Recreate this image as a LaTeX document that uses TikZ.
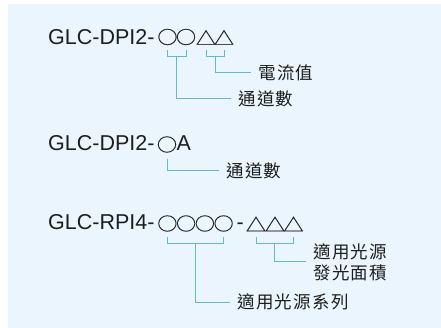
\documentclass[tikz,border=0pt]{standalone}
\usepackage{fontspec}
\setmainfont{Liberation Sans}
\newfontfamily\cjk[LetterSpace=8]{Noto Sans CJK TC}
\newfontfamily\symfont[FakeStretch=1.12,FakeBold=0.4]{Noto Sans CJK TC}
\usetikzlibrary{calc}
\definecolor{bgc}{RGB}{234,245,253}
\definecolor{leadc}{RGB}{100,185,200}
\definecolor{inkc}{RGB}{30,30,30}
\begin{document}
\begin{tikzpicture}[x=1pt,y=-1pt,
  code/.style={anchor=base west, inner sep=0pt, font=\fontsize{21.5}{24}\selectfont, text=inkc},
  glyph/.style={inner sep=0pt, font=\symfont\fontsize{18}{20}\selectfont, text=inkc},
  lbl/.style={anchor=west, inner sep=0pt, font=\cjk\fontsize{17.5}{21}\selectfont, text=inkc, align=left},
  lead/.style={draw=leadc, line width=1pt},
  leadend/.style={lead, shorten >=7pt},
]
\useasboundingbox (0,0) rectangle (441,328);
\fill[bgc] (8,4) rectangle (441,328);

% ---- line 1
\node[code] (p1) at (48,44.5) {GLC-DPI2-};
\node[glyph] (a1) at (167.5,37) {○};
\node[glyph] (a2) at (186,37) {○};
\node[glyph] (a3) at (206,37.5) {△};
\node[glyph] (a4) at (224,37.5) {△};
\coordinate (t1) at (0,50);
\coordinate (u1) at (0,57);
\node[lbl] (l1) at (258,72.5) {電流值};
\node[lbl] (l2) at (238,99) {通道數};
\draw[lead] (a1 |- t1) -- (a1 |- u1) -- (a2 |- u1) -- (a2 |- t1);
\draw[lead] (a3 |- t1) -- (a3 |- u1) -- (a4 |- u1) -- (a4 |- t1);
\coordinate (m1) at ($(a1 |- u1)!0.5!(a2 |- u1)$);
\coordinate (m2) at ($(a3 |- u1)!0.5!(a4 |- u1)$);
\draw[leadend] (m1) -- (m1 |- l2) -- (l2.west);
\draw[leadend] (m2) -- (m2 |- l1) -- (l1.west);

% ---- line 2
\node[code] (p2) at (48,151) {GLC-DPI2-};
\node[glyph] (e1) at (167,144.5) {○};
\node[code] (e2) at (176.5,151) {A};
\coordinate (t2) at (0,159);
\node[lbl] (l3) at (226,171) {通道數};
\draw[leadend] (e1 |- t2) -- (e1 |- l3) -- (l3.west);

% ---- line 3
\node[code] (p3) at (48,230) {GLC-RPI4-};
\node[glyph] (b1) at (167.4,223.5) {○};
\node[glyph] (b2) at (186.1,223.5) {○};
\node[glyph] (b3) at (204.9,223.5) {○};
\node[glyph] (b4) at (223.6,223.5) {○};
\node[code] (h3) at (236.5,230) {-};
\node[glyph] (d1) at (256,224) {△};
\node[glyph] (d2) at (275,224) {△};
\node[glyph] (d3) at (293.5,224) {△};
\coordinate (t3) at (0,237);
\coordinate (u3) at (0,244);
\node[lbl] (l5) at (237,302) {適用光源系列};
\node[lbl] (l6) at (313,262) {適用光源\\發光面積};
\draw[lead] (b1 |- t3) -- (b1 |- u3) -- (b4 |- u3) -- (b4 |- t3);
\draw[lead] (d1 |- t3) -- (d1 |- u3) -- (d3 |- u3) -- (d3 |- t3);
\coordinate (m3) at ($(b1 |- u3)!0.5!(b4 |- u3)$);
\coordinate (m4) at ($(d1 |- u3)!0.5!(d3 |- u3)$);
\draw[leadend] (m3) -- (m3 |- l5) -- (l5.west);
\draw[leadend] (m4) -- (m4 |- l6) -- (l6.west);
\end{tikzpicture}
\end{document}
